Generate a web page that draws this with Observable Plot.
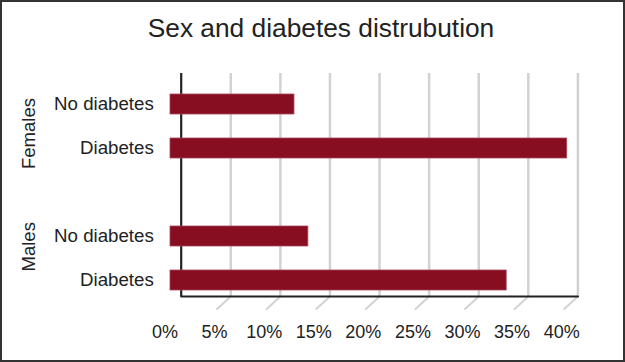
<!DOCTYPE html>
<html>
<head>
<meta charset="utf-8">
<script src="https://cdn.jsdelivr.net/npm/d3@7"></script>
<script src="https://cdn.jsdelivr.net/npm/@observablehq/plot@0.6"></script>
<style>
  html, body { margin: 0; padding: 0; background: #fff; }
  #chart {
    position: relative; width: 625px; height: 362px; box-sizing: border-box;
    border: 2px solid #333; background: #fff; overflow: hidden;
    font-family: "Liberation Sans", Arial, sans-serif;
  }
  #title {
    position: absolute; left: 0; top: 0; width: 621px; box-sizing: border-box;
    padding-left: 17px; text-align: center; font-size: 26.3px; line-height: 52px; color: #222;
  }
  #plot { position: absolute; left: 0; top: 0; }
</style>
</head>
<body>
<div id="chart">
  <div id="title">Sex and diabetes distrubution</div>
  <div id="plot"></div>
</div>
<script>
// ---- data ----
const sexes    = ["Females", "Females", "Males", "Males"];
const statuses = ["No diabetes", "Diabetes", "No diabetes", "Diabetes"];
const percents = [12.5, 40.0, 13.9, 33.9];
const groups   = ["Females", "Males"];
const xTicks   = [0, 5, 10, 15, 20, 25, 30, 35, 40];
const tickLabels = ["0%", "5%", "10%", "15%", "20%", "25%", "30%", "35%", "40%"];

const rows = sexes.map((s, i) => ({sex: s, status: statuses[i], value: percents[i], key: s + "|" + statuses[i]}));
const yDomain = [rows[0].key, rows[1].key, "gap", rows[2].key, rows[3].key];

const barColor = "#870e20";
const gridColor = "#d2d2d2";

const plot = Plot.plot({
  width: 621,
  height: 358,
  marginLeft: 168,
  marginRight: 56.3,
  marginTop: 66,
  marginBottom: 44.15,
  style: {fontFamily: "'Liberation Sans', Arial, sans-serif", fontSize: "18px", color: "#222", background: "transparent"},
  x: {domain: [0, 40]},
  y: {domain: yDomain, type: "band", padding: 0.546},
  marks: [
    // back-wall gridlines
    Plot.ruleX(xTicks.filter(d => d > 0), {x: d => d, dx: 10.7, insetTop: 5, insetBottom: 19.85, stroke: gridColor, strokeWidth: 2.5}),
    // floor diagonals
    Plot.vector(xTicks.filter(d => d > 0), {
      x: d => d, frameAnchor: "bottom", dx: -3, dy: -7.35, anchor: "start",
      rotate: 47.6, length: 18.5, stroke: gridColor, strokeWidth: 2,
      shape: {draw(ctx, l) { ctx.moveTo(0, 0); ctx.lineTo(0, -l); }}
    }),
    // vertical axis wall line
    Plot.ruleX([0], {dx: 10.7, insetTop: 5, insetBottom: 19.85, stroke: "#222", strokeWidth: 2.2}),
    // bottom axis line
    Plot.vector([0], {
      x: d => d, frameAnchor: "bottom", dx: 10.7, dy: -19.85, anchor: "start",
      rotate: 90, length: 396.7, stroke: "#222", strokeWidth: 2.2,
      shape: {draw(ctx, l) { ctx.moveTo(0, 0); ctx.lineTo(0, -l); }}
    }),
    // bars
    Plot.barX(rows, {y: "key", x: "value", fill: barColor, stroke: "#a8465a", strokeWidth: 0.8}),
    // y category labels
    Plot.axisY({
      ticks: rows.map(r => r.key), tickFormat: k => k.split("|")[1],
      tickSize: 0, tickPadding: 16.7, fontSize: 18.7, label: null, color: "#222"
    }),
    // x tick labels
    Plot.axisX({
      ticks: xTicks, tickFormat: (d) => tickLabels[xTicks.indexOf(d)],
      tickSize: 0, tickPadding: 9, dx: -5.5, fontSize: 18, label: null, color: "#222"
    }),
    // group labels
    Plot.text(groups.slice(0, 1), {
      y: () => rows[0].key, x: () => 0, text: d => d, rotate: -90,
      dx: -141.7, dy: 29, fontSize: 18.5, fill: "#222"
    }),
    Plot.text(groups.slice(1, 2), {
      y: () => rows[2].key, x: () => 0, text: d => d, rotate: -90,
      dx: -141.7, dy: 10.3, fontSize: 18.5, fill: "#222"
    })
  ]
});
document.getElementById("plot").appendChild(plot);
</script>
</body>
</html>
